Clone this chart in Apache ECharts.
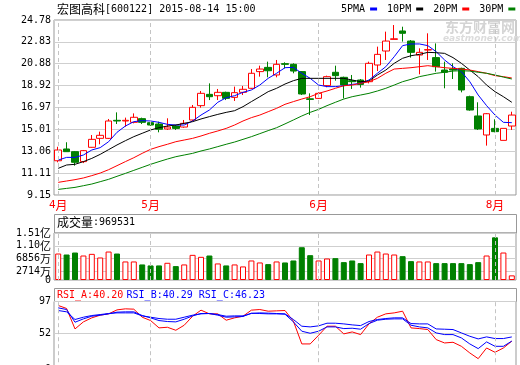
<!DOCTYPE html>
<html><head><meta charset="utf-8">
<script src="https://cdn.jsdelivr.net/npm/echarts@6/dist/echarts.min.js"></script>
<style>html,body{margin:0;padding:0;background:#fff}#c{width:520px;height:365px}</style>
</head><body><div id="c"></div>
<script>
const dates = ['2015-04-01','2015-04-02','2015-04-03','2015-04-07','2015-04-08','2015-04-09','2015-04-10','2015-04-13','2015-04-14','2015-04-15','2015-04-16',
'2015-05-04','2015-05-05','2015-05-06','2015-05-07','2015-05-08','2015-05-11','2015-05-12','2015-05-13','2015-05-14','2015-05-15','2015-05-18','2015-05-19','2015-05-20','2015-05-21','2015-05-22','2015-05-25','2015-05-26','2015-05-27','2015-05-28','2015-05-29',
'2015-06-01','2015-06-02','2015-06-03','2015-06-04','2015-06-05','2015-06-08','2015-06-09','2015-06-10','2015-06-11','2015-06-12','2015-06-15','2015-06-16','2015-06-17','2015-06-18','2015-06-19','2015-06-23','2015-06-24','2015-06-25','2015-06-26','2015-06-29','2015-06-30',
'2015-08-12','2015-08-13','2015-08-14'];
const opens  = [12.21,13.26,13.02,12.13,13.41,14.21,14.21,15.82,15.76,15.64,15.97,15.61,15.49,15.05,15.31,15.22,15.85,17.13,18.14,18.02,18.32,17.87,18.32,18.68,20.17,20.55,19.87,20.88,20.82,20.17,17.74,17.78,18.92,20.11,19.66,19.36,19.42,19.27,20.76,22.01,23.05,23.80,22.90,21.65,22.10,21.42,20.31,20.40,20.46,17.93,16.21,14.51,15.10,14.03,15.31];
const closes = [13.17,13.02,12.07,13.11,14.12,14.48,15.76,15.76,15.82,16.09,15.64,15.40,15.02,15.22,15.10,15.55,16.98,18.23,17.93,18.32,17.78,18.29,18.59,20.02,20.40,20.25,20.82,20.82,20.22,18.17,17.69,18.23,19.72,19.81,18.98,19.27,19.03,20.91,21.71,22.90,23.10,23.59,21.89,21.89,22.13,20.61,20.11,20.31,18.53,16.74,15.05,16.41,14.81,15.10,16.29];
const lows   = [12.07,13.00,11.77,12.00,13.38,13.68,14.15,15.49,15.25,15.55,15.49,15.34,14.75,14.96,14.96,15.16,15.76,16.95,17.63,17.63,17.63,17.55,18.08,18.62,19.72,19.66,19.66,20.46,20.02,18.08,16.29,17.72,18.77,19.36,17.78,18.62,18.74,19.12,20.22,21.21,23.05,22.85,21.42,19.93,21.21,20.17,18.68,19.51,18.32,16.68,14.96,13.56,14.75,14.03,14.96];
const highs  = [13.46,13.86,13.08,13.17,14.51,14.81,15.94,16.53,16.06,16.44,16.06,15.70,15.70,16.00,15.40,15.85,17.19,18.44,19.12,18.62,18.38,18.83,18.89,20.40,20.70,21.06,21.21,21.00,20.91,20.22,18.23,18.32,19.81,20.70,19.72,19.87,19.51,21.06,22.40,23.74,24.33,24.18,22.99,22.25,23.59,22.69,21.06,20.91,20.52,18.02,17.43,16.47,15.91,15.10,16.59];
const ma5  = [12.27,12.51,12.51,12.72,13.17,13.38,13.91,14.75,15.31,15.70,15.79,15.76,15.64,15.46,15.40,15.40,15.76,16.29,16.74,17.43,17.84,18.02,18.32,18.53,18.97,19.57,20.02,20.52,20.55,20.02,19.57,18.97,18.83,18.83,18.91,19.03,19.12,19.42,20.02,20.61,21.50,22.49,22.64,22.64,22.49,21.95,21.21,20.61,20.17,19.27,18.08,17.13,16.29,15.64,15.61];
const ma10 = [11.53,11.83,11.89,12.13,12.42,12.78,13.20,13.62,14.00,14.36,14.66,14.96,15.16,15.31,15.40,15.55,15.70,15.94,16.15,16.35,16.53,16.68,17.04,17.49,17.93,18.38,18.68,19.06,19.36,19.57,19.57,19.57,19.57,19.57,19.57,19.42,19.27,19.33,19.87,20.31,20.91,21.36,21.59,21.71,21.89,21.86,21.80,21.42,20.91,20.31,19.72,18.97,18.38,17.93,17.43];
const ma20 = [10.28,10.40,10.52,10.67,10.88,11.11,11.41,11.77,12.13,12.48,12.87,13.23,13.47,13.68,13.91,14.06,14.21,14.42,14.66,14.87,15.10,15.40,15.76,16.06,16.29,16.59,16.89,17.25,17.49,17.72,17.93,18.23,18.44,18.68,18.91,18.97,19.12,19.27,19.57,20.02,20.40,20.46,20.52,20.61,20.70,20.61,20.52,20.46,20.40,20.31,20.17,20.02,19.81,19.72,19.60];
const ma30 = [9.65,9.74,9.83,9.98,10.13,10.34,10.55,10.82,11.08,11.35,11.62,11.89,12.13,12.36,12.57,12.72,12.87,13.08,13.26,13.47,13.68,13.88,14.12,14.36,14.63,14.90,15.16,15.50,15.85,16.21,16.53,16.80,17.13,17.43,17.72,17.93,18.08,18.23,18.44,18.68,18.97,19.27,19.48,19.72,19.87,20.02,20.11,20.22,20.25,20.22,20.11,20.02,19.87,19.68,19.51];
const volumes = [8507,8188,8826,7869,8401,7231,9145,8507,5955,5955,4998,4679,4679,5530,4466,4998,8082,7444,7869,5317,4679,4998,4360,6274,5636,5104,5955,5636,6274,10528,7976,6274,6912,7018,5742,6274,5423,8188,9145,8507,8188,7656,6061,5955,5955,5423,5423,5423,5423,5104,5742,7869,13718,8826,1489];
const rsiA = [91.3,87.0,57.7,67.8,73.6,77.4,79.3,85.0,86.5,86.0,74.5,69.7,59.2,60.1,55.8,63.0,75.9,84.6,79.3,79.3,70.2,73.6,75.9,84.6,85.5,83.1,83.6,84.1,68.8,36.2,36.2,48.6,61.6,61.6,50.6,53.4,49.6,64.9,74.5,79.3,80.7,83.1,59.2,58.2,56.8,42.4,37.6,38.6,32.8,23.3,15.1,30.4,24.2,30.4,40.20];
const rsiB = [87.9,85.5,67.3,72.1,75.9,77.4,79.3,81.7,82.2,82.2,76.9,73.6,69.7,68.3,67.8,71.6,76.4,79.8,79.8,77.4,74.5,75.0,75.5,80.3,79.8,79.3,79.3,78.8,67.8,54.4,51.5,54.4,60.6,60.6,58.2,58.7,57.3,65.4,70.2,71.6,72.1,72.1,63.0,60.6,59.2,52.0,49.6,49.6,44.8,36.2,29.5,39.1,32.8,32.8,40.29];
const rsiC = [84.1,82.2,71.2,74.5,76.9,78.3,79.8,80.7,80.7,80.7,76.4,74.5,72.6,71.6,71.6,74.5,77.4,79.3,79.8,78.3,75.9,76.4,76.4,79.8,80.7,80.3,79.8,79.3,71.2,61.6,60.6,62.1,65.9,65.9,64.9,63.5,62.5,68.3,71.2,72.6,73.6,73.6,65.4,64.9,64.9,57.7,57.3,56.8,52.0,47.2,43.4,46.3,43.9,43.9,46.23];
const priceTicks = [9.15,11.11,13.06,15.01,16.97,18.92,20.88,22.83,24.78];
const volumeTicks = [0,2714,6856,11000,15100];
const rsiTicks = [0,52,97];
const stockName = '宏图高科';
const stockInfo = '[600122] 2015-08-14 15:00';
const volumeHeader = 969531;
const maNames = ['5PMA','10PM','20PM','30PM'];

const MONO = "'DejaVu Sans Mono', 'Noto Sans CJK SC', monospace";
const CJK = "'Noto Sans CJK SC', sans-serif";
const RED = '#ff0000', GREEN = '#008000', BLUE = '#0000ff';
const GRIDC = '#cfcfcf', BORDER = '#999999';

const isUp = closes.map((c, i) => c > opens[i]);
const monthStartIdx = dates.map((d, i) => (i === 0 || d.slice(5, 7) !== dates[i - 1].slice(5, 7)) ? i : -1).filter(i => i >= 0);
const monthLine = {
  silent: true, symbol: ['none', 'none'], label: { show: false },
  lineStyle: { color: '#c4c4c4', type: [4, 3], width: 1 },
  data: monthStartIdx.map(i => ({ xAxis: dates[i] })), animation: false
};

const chart = echarts.init(document.getElementById('c'));
const L = 54, W = 462;
const richLabel = color => ({
  n: { fontFamily: MONO, fontSize: 10, color: color },
  c: { fontFamily: CJK, fontSize: 11, color: color }
});
const baseX = idx => ({
  type: 'category', gridIndex: idx, data: dates, boundaryGap: true,
  axisLine: { show: false }, axisTick: { show: false }, splitLine: { show: false },
  axisLabel: { show: false }
});
const xMain = baseX(0);
xMain.axisLabel = {
  show: true, color: RED, margin: 4,
  interval: (index) => monthStartIdx.indexOf(index) >= 0,
  formatter: v => '{n|' + parseInt(v.slice(5, 7), 10) + '}{c|月}',
  rich: { n: { fontFamily: MONO, fontSize: 11, color: RED }, c: { fontFamily: CJK, fontSize: 12, color: RED } }
};
const volFmt = v => v === 0 ? '{n|0}' : (v < 10000 ? '{n|' + v + '}{c|万}' : '{n|' + (v / 10000).toFixed(2) + '}{c|亿}');
const gridBase = { left: L, width: W, show: true, borderColor: BORDER, borderWidth: 1, outerBoundsMode: 'none', containLabel: false };
const volMax = volumeTicks[volumeTicks.length - 1];
const volTop = volumeTicks.filter(v => v > 0);
const volZero = volumeTicks.filter(v => v === 0);

const option = {
  animation: false,
  backgroundColor: '#ffffff',
  grid: [
    Object.assign({ top: 20, height: 175 }, gridBase),
    Object.assign({ top: 233, height: 47 }, gridBase),
    Object.assign({ top: 301.5, height: 67.7 }, gridBase)
  ],
  legend: {
    left: 341, top: 4, padding: 0, width: 178, itemWidth: 7, itemHeight: 3, itemGap: 10, align: 'right', icon: 'rect',
    selectedMode: false, data: maNames,
    textStyle: { fontFamily: MONO, fontSize: 10, color: '#000' }
  },
  xAxis: [xMain, baseX(1), baseX(2)],
  yAxis: [
    { type: 'value', gridIndex: 0, min: priceTicks[0], max: priceTicks[priceTicks.length - 1],
      axisLine: { show: false }, axisTick: { show: false, customValues: priceTicks },
      splitLine: { show: true, lineStyle: { color: GRIDC, width: 1 } },
      axisLabel: { customValues: priceTicks, showMinLabel: true, showMaxLabel: true, formatter: v => v.toFixed(2), margin: 3, fontFamily: MONO, fontSize: 10, color: '#000' } },
    { type: 'value', gridIndex: 1, min: 0, max: volMax,
      axisLine: { show: false }, axisTick: { show: false, customValues: volTop },
      splitLine: { show: true, lineStyle: { color: GRIDC, width: 1 } },
      axisLabel: { customValues: volTop, showMinLabel: true, showMaxLabel: true, formatter: volFmt, margin: 3, rich: richLabel('#000') } },
    { type: 'value', gridIndex: 2, min: 0, max: rsiTicks[rsiTicks.length - 1],
      axisLine: { show: false }, axisTick: { show: false, customValues: rsiTicks },
      splitLine: { show: true, lineStyle: { color: GRIDC, width: 1 } },
      axisLabel: { customValues: rsiTicks, showMinLabel: true, showMaxLabel: true, margin: 3, fontFamily: MONO, fontSize: 10, color: '#000' } },
    { type: 'value', gridIndex: 1, min: 0, max: volMax, position: 'left',
      axisLine: { show: false }, axisTick: { show: false, customValues: volZero }, splitLine: { show: false },
      axisLabel: { customValues: volZero, showMinLabel: true, formatter: volFmt, margin: 3, rich: richLabel('#000') } }
  ],
  series: [
    { type: 'candlestick', xAxisIndex: 0, yAxisIndex: 0, barWidth: 7,
      data: dates.map((d, i) => [opens[i], closes[i], lows[i], highs[i]]),
      itemStyle: { color: '#ffffff', color0: GREEN, borderColor: RED, borderColor0: GREEN, borderWidth: 1 },
      markLine: monthLine },
    { name: maNames[0], type: 'line', xAxisIndex: 0, yAxisIndex: 0, data: ma5, showSymbol: false, color: BLUE, lineStyle: { width: 1, color: BLUE } },
    { name: maNames[1], type: 'line', xAxisIndex: 0, yAxisIndex: 0, data: ma10, showSymbol: false, color: '#000000', lineStyle: { width: 1, color: '#000000' } },
    { name: maNames[2], type: 'line', xAxisIndex: 0, yAxisIndex: 0, data: ma20, showSymbol: false, color: RED, lineStyle: { width: 1, color: RED } },
    { name: maNames[3], type: 'line', xAxisIndex: 0, yAxisIndex: 0, data: ma30, showSymbol: false, color: GREEN, lineStyle: { width: 1, color: GREEN } },
    { type: 'bar', xAxisIndex: 1, yAxisIndex: 1, barWidth: 6,
      data: volumes.map((v, i) => ({ value: v, itemStyle: isUp[i] ? { color: '#ffffff', borderColor: RED, borderWidth: 1 } : { color: GREEN, borderColor: GREEN, borderWidth: 1 } })),
      markLine: monthLine },
    { type: 'line', xAxisIndex: 2, yAxisIndex: 2, data: rsiA, showSymbol: false, lineStyle: { width: 1, color: RED }, markLine: monthLine },
    { type: 'line', xAxisIndex: 2, yAxisIndex: 2, data: rsiB, showSymbol: false, lineStyle: { width: 1, color: BLUE } },
    { type: 'line', xAxisIndex: 2, yAxisIndex: 2, data: rsiC, showSymbol: false, lineStyle: { width: 1, color: BLUE } }
  ],
  graphic: [
    { type: 'text', left: 57, top: 3, style: {
        text: '{c|' + stockName + '}{n|' + stockInfo + '}',
        rich: { c: { fontFamily: CJK, fontSize: 12, fill: '#000' }, n: { fontFamily: MONO, fontSize: 10, fill: '#000' } } } },
    { type: 'rect', shape: { x: L + 0.5, y: 214.5, width: W, height: 18.5 }, style: { fill: 'none', stroke: BORDER, lineWidth: 1 }, silent: true },
    { type: 'text', left: 57, top: 216, style: {
        text: '{c|成交量}{n|:' + volumeHeader + '}',
        rich: { c: { fontFamily: CJK, fontSize: 12, fill: '#000' }, n: { fontFamily: MONO, fontSize: 10, fill: '#000' } } } },
    { type: 'rect', shape: { x: L + 0.5, y: 288.5, width: W, height: 13 }, style: { fill: 'none', stroke: BORDER, lineWidth: 1 }, silent: true },
    { type: 'text', left: 57, top: 289, style: {
        text: '{a|RSI_A:' + rsiA[rsiA.length - 1].toFixed(2) + '} {b|RSI_B:' + rsiB[rsiB.length - 1].toFixed(2) + ' RSI_C:' + rsiC[rsiC.length - 1].toFixed(2) + '}',
        rich: { a: { fontFamily: MONO, fontSize: 10, fill: RED }, b: { fontFamily: MONO, fontSize: 10, fill: BLUE } } } },
    { type: 'text', left: 445, top: 20, style: { text: '东方财富网', fontFamily: CJK, fontSize: 14, fontWeight: 'bold', fill: '#d4d4d4' }, silent: true },
    { type: 'text', left: 443, top: 34, style: { text: 'eastmoney.com', fontFamily: "'DejaVu Sans'", fontSize: 9, fontStyle: 'italic', fontWeight: 'bold', fill: '#dcdcdc' }, silent: true }
  ]
};
chart.setOption(option);
</script>
</body></html>
